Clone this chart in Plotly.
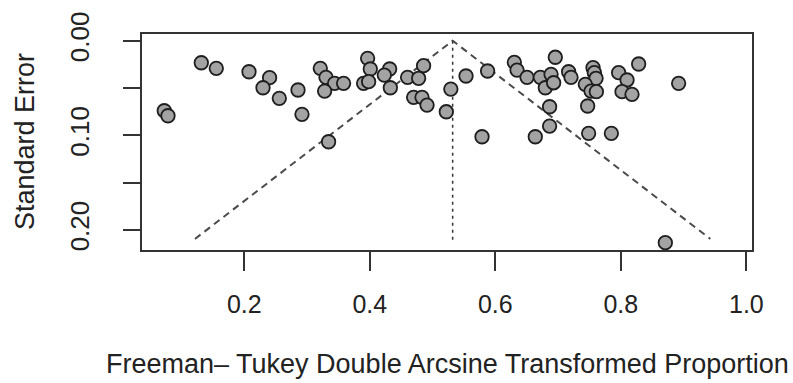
import plotly.graph_objects as go

# Study-level data: Freeman-Tukey transformed proportion and standard error
ft_proportion = [0.0725, 0.0784, 0.1315, 0.1554, 0.2075, 0.2403, 0.2298, 0.2558, 0.2856, 0.2919,
                 0.3211, 0.3302, 0.3439, 0.3582, 0.3280, 0.3343, 0.3965, 0.4008, 0.3901, 0.3981,
                 0.4316, 0.4231, 0.4327, 0.4602, 0.4778, 0.4857, 0.4698, 0.4832, 0.4912, 0.5291,
                 0.5219, 0.5533, 0.5877, 0.6303, 0.6346, 0.6505, 0.6956, 0.6717, 0.6888, 0.6797,
                 0.6929, 0.7168, 0.7206, 0.6865, 0.6865, 0.5788, 0.6637, 0.7557, 0.7578, 0.7605,
                 0.7434, 0.7525, 0.7610, 0.7965, 0.8099, 0.8019, 0.8178, 0.8284, 0.8921, 0.7471,
                 0.7487, 0.7849, 0.8709]
std_error = [0.0740, 0.0793, 0.0233, 0.0292, 0.0328, 0.0391, 0.0497, 0.0609, 0.0521, 0.0778,
             0.0292, 0.0387, 0.0450, 0.0450, 0.0532, 0.1068, 0.0186, 0.0299, 0.0450, 0.0433,
             0.0299, 0.0363, 0.0497, 0.0387, 0.0397, 0.0264, 0.0598, 0.0598, 0.0680, 0.0511,
             0.0751, 0.0373, 0.0320, 0.0228, 0.0310, 0.0387, 0.0175, 0.0387, 0.0355, 0.0497,
             0.0444, 0.0328, 0.0387, 0.0698, 0.0902, 0.1015, 0.1015, 0.0285, 0.0338, 0.0397,
             0.0461, 0.0532, 0.0539, 0.0338, 0.0415, 0.0539, 0.0567, 0.0246, 0.0450, 0.0690,
             0.0979, 0.0979, 0.2135]

# Pooled estimate and funnel limits
pooled_estimate = 0.532
funnel_se_max = 0.2095
vline_se_max = 0.2125
z_crit = 1.96

x_tickvals = [0.2, 0.4, 0.6, 0.8, 1.0]
x_ticktext = ["0.2", "0.4", "0.6", "0.8", "1.0"]
y_tickvals = [0.0, 0.05, 0.10, 0.15, 0.20]
y_ticktext = ["0.00", "", "0.10", "", "0.20"]

FONT = "Liberation Sans, Arial, sans-serif"
INK = "#222222"

fig = go.Figure()

# funnel (pseudo confidence) lines
fig.add_trace(go.Scatter(
    x=[pooled_estimate - z_crit * funnel_se_max, pooled_estimate, pooled_estimate + z_crit * funnel_se_max],
    y=[funnel_se_max, 0.0, funnel_se_max],
    mode="lines", line=dict(color="#4a4a4a", width=2, dash="7px,5px"),
    hoverinfo="skip", showlegend=False))
# vertical reference line
fig.add_trace(go.Scatter(
    x=[pooled_estimate, pooled_estimate], y=[0.0, vline_se_max],
    mode="lines", line=dict(color="#333333", width=1.5, dash="3px,4px"),
    hoverinfo="skip", showlegend=False))
# studies
fig.add_trace(go.Scatter(
    x=ft_proportion, y=std_error, mode="markers",
    marker=dict(size=13.5, color="#a3a3a3", line=dict(color="#1e1e1e", width=1.8)),
    showlegend=False))

fig.update_layout(
    width=793, height=383,
    margin=dict(l=142, r=41, t=34, b=133),
    paper_bgcolor="white", plot_bgcolor="white",
    font=dict(family=FONT, color=INK),
    xaxis=dict(range=[0.037, 1.009], tickvals=x_tickvals, ticktext=x_ticktext,
               showgrid=False, zeroline=False, showline=True, mirror=True,
               linecolor="#333333", linewidth=2, ticks="outside", ticklen=19,
               tickwidth=1.5, tickcolor="#333333", tickfont=dict(size=25, color=INK),
               ticklabelstandoff=12),
    yaxis=dict(range=[0.2212, -0.0071], tickvals=y_tickvals, ticktext=y_ticktext,
               showgrid=False, zeroline=False, showline=True, mirror=True,
               linecolor="#333333", linewidth=2, ticks="outside", ticklen=17,
               tickwidth=1.5, tickcolor="#333333", tickfont=dict(size=26, color=INK),
               tickangle=-90, ticklabelstandoff=24),
    annotations=[
        dict(text="Freeman\u2013 Tukey Double Arcsine Transformed Proportion",
             xref="paper", yref="paper", x=0.5, y=-0.53, xanchor="center", yanchor="middle",
             showarrow=False, font=dict(size=27, color=INK, family=FONT)),
        dict(text="Standard Error", textangle=-90,
             xref="paper", yref="paper", x=-0.1918, y=0.5, xanchor="center", yanchor="middle",
             showarrow=False, font=dict(size=27, color=INK, family=FONT)),
    ],
)

fig.write_html("out.html")
